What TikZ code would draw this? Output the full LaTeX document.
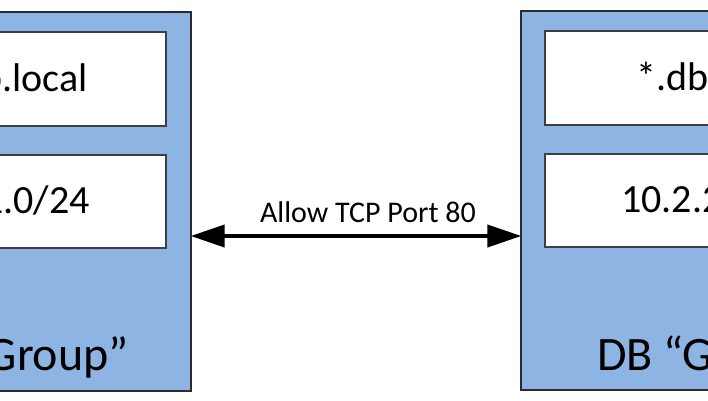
\documentclass[tikz,border=0pt]{standalone}
\usepackage{fontspec}
\setmainfont{Carlito}
\usetikzlibrary{arrows.meta}
\definecolor{grpblue}{HTML}{8EB4E3}
\definecolor{edgegray}{HTML}{2B2B2B}
\definecolor{inneredge}{HTML}{3F3F3F}
\tikzset{
  grp/.style={draw=edgegray, line width=1.4pt, fill=grpblue, inner sep=0pt},
  field/.style={draw=inneredge, line width=1.2pt, fill=white, inner sep=0pt},
  fieldtxt/.style={inner sep=0pt, font=\fontsize{40}{48}\selectfont},
  grptxt/.style={inner sep=0pt, font=\fontsize{48}{56}\selectfont},
  arrtxt/.style={inner sep=0pt, font=\fontsize{30}{36}\selectfont},
  link/.style={line width=4pt, {Triangle[length=34pt,width=22pt]}-{Triangle[length=34pt,width=22pt]}, shorten <=-1pt, shorten >=-1pt}
}
\begin{document}
\begin{tikzpicture}[x=1pt,y=-1pt]
\useasboundingbox (0,0) rectangle (708,400);
\clip (0,0) rectangle (708,400);
% left group
\node[grp, minimum width=388pt, minimum height=379pt] (lg) at (-3,201.5) {};
\node[field, minimum width=340pt, minimum height=94pt] (lf1) at (-4,79) {};
\node[field, minimum width=340pt, minimum height=93pt] (lf2) at (-4,201.5) {};
\node[fieldtxt, anchor=base east] (lt1) at (88,91) {*.web.local};
\node[fieldtxt, anchor=base east] (lt2) at (90,213) {10.1.1.0/24};
\node[grptxt, anchor=base east] (lgt) at (129,370) {Web “Group”};
% right group
\node[grp, minimum width=388pt, minimum height=379pt] (rg) at (715,200.5) {};
\node[field, minimum width=340pt, minimum height=94pt] (rf1) at (715,78) {};
\node[field, minimum width=340pt, minimum height=93pt] (rf2) at (715,200.5) {};
\node[fieldtxt, anchor=base west] (rt1) at (636,90) {*.db.local};
\node[fieldtxt, anchor=base west] (rt2) at (621,212) {10.2.2.0/24};
\node[grptxt, anchor=base west] (rgt) at (597,370) {DB “Group”};
% connection
\coordinate (a) at (lg.east |- 0,236);
\coordinate (b) at (rg.west |- 0,236);
\draw[link] (a) -- (b);
\node[arrtxt, anchor=base] (lbl) at (368,222) {Allow TCP Port 80};
\end{tikzpicture}
\end{document}
